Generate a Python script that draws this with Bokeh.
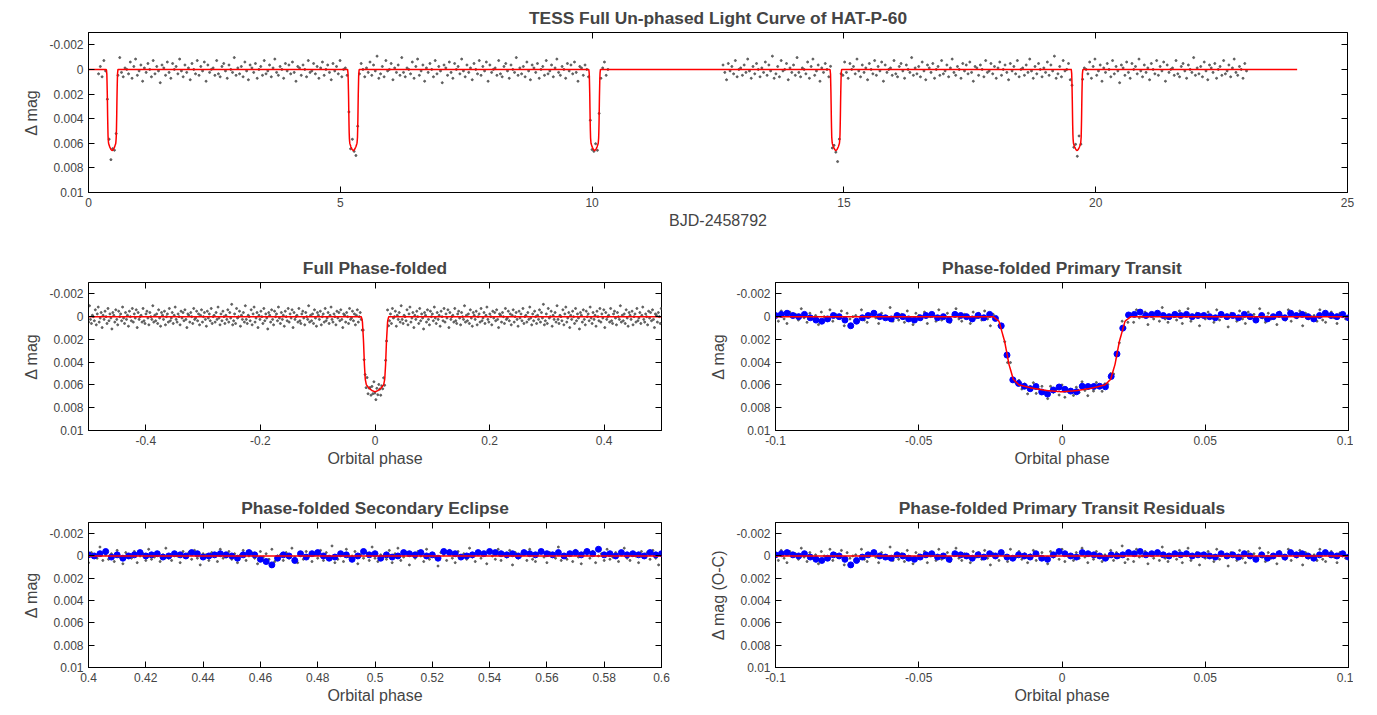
import numpy as np
from bokeh.plotting import figure
from bokeh.layouts import column, row
from bokeh.models import Range1d, FixedTicker, CustomJSTickFormatter, LinearAxis
from bokeh.embed import file_html
from bokeh.resources import INLINE

# ---- data (mag units of 1e-4 for noise lists) ----
PERIOD = 4.79
T0 = 0.47
PHASE_T = [-0.5, -0.024, -0.022, -0.020, -0.0185, -0.017, -0.015, -0.01, -0.005, 0.0,
           0.005, 0.01, 0.015, 0.017, 0.0185, 0.020, 0.022, 0.024, 0.5]
DEPTH_T = [0.0, 0.0, 0.0004, 0.0022, 0.0042, 0.0055, 0.0060, 0.0063, 0.0065, 0.0066,
           0.0065, 0.0063, 0.0060, 0.0055, 0.0042, 0.0022, 0.0004, 0.0, 0.0]
NOISE = [3,-2,5,-6,1,0,-4,7,-1,2,-3,4,-8,2,5,-1,0,3,-5,6,-2,-7,4,1,-3,8,-1,2,-4,0,5,-6,3,-2,1,9,-3,-1,4,-5,
         2,6,-4,0,-2,3,-7,1,5,-3,2,-1,7,-4,0,3,-6,4,-2,1,-5,8,-3,2,0,-1,4,-6,3,5,-2,-4,1,6,-3,0,2,-8,4,-1,
         3,-2,5,-5,1,7,-3,-1,2,-4,6,0,-2,4,-6,3,1,-3,5,-1,-7,2,4,-2,0,6,-4,1,-3,3,-5,2,8,-2,-1,4,-3,0,5,-6,
         2,1,-4,3,-2,6,-1,-5,4,0,-3,2,7,-4,1,-2,3,-6,5,0,-1,4,-3,2,-7,1,6,-2,3,-4,0,5,-1,2,-5,4,-3,1,-9,6]
BLUE_RES = [-1,-2,-3,-1,0,-2,1,3,4,2,-1,0,3,8,4,1,-1,-3,0,1,2,-1,0,2,3,1,-1,-2,1,0,3,-2,-1,0,2,-1,1,-2,0,-3,
            1,2,-1,0,1,-2,2,3,-1,-4,-2,0,1,-3,-2,-1,0,2,-1,0,-1,-3,-2,-4,-1,-2,-3,-1,0,-2,-1,-2,0,-1,-1,0,1,-2,0,-1,
            1,-2,0,3,-1,2,0,-2,1,-3,-1,-2,0,2,-1,-3,-1,0,-2,1]
SEC_RES = [-1,0,-2,-4,1,-1,2,0,-1,-3,0,-1,-2,1,0,-2,-1,0,-3,-2,1,0,-1,-2,-1,0,2,-1,-3,-1,3,5,8,2,-1,0,4,-2,1,-2,
           -3,0,2,1,-2,-1,3,0,-4,-1,-2,2,-1,1,0,-3,-2,-1,-3,0,-1,2,-4,-3,-2,1,0,-1,-3,-2,-4,-3,-2,-1,-2,0,-3,-2,-1,-4,
           -2,-1,-3,0,-2,-3,-1,-4,-2,-6,-1,-2,0,-3,-1,-2,-1,0,-3,-1,-2]
TOP_SEGMENTS = [(0.2, 10.35), (12.6, 23.0)]

Y_TICKS = [-0.002, 0, 0.002, 0.004, 0.006, 0.008, 0.01]
FONT = "Liberation Sans"
fmt = CustomJSTickFormatter(code="return (Math.round(tick*1e6)/1e6).toString();")
blank = CustomJSTickFormatter(code="return '';")


def model(ph):
    return np.interp(ph, PHASE_T, DEPTH_T)


def fold(t):
    return ((np.asarray(t) - T0) / PERIOD + 0.5) % 1.0 - 0.5


def noise(n, start=0):
    return np.array([NOISE[(start + i) % len(NOISE)] for i in range(n)]) * 1e-4


def make(title, w, h, xr, xticks, xlabel, ylabel, bl, br, bt, bb):
    p = figure(width=w, height=h, output_backend="svg", toolbar_location=None,
               x_range=Range1d(*xr), y_range=Range1d(0.01, -0.003),
               min_border_left=bl, min_border_right=br, min_border_top=bt, min_border_bottom=bb,
               title=title)
    p.title.align = "center"
    p.title.text_font = FONT
    p.title.text_font_size = "13pt"
    p.title.text_font_style = "bold"
    p.xgrid.visible = False
    p.ygrid.visible = False
    p.outline_line_color = "black"
    p.outline_line_width = 1
    for ax, ticks in ((p.xaxis[0], xticks), (p.yaxis[0], Y_TICKS)):
        ax.ticker = FixedTicker(ticks=ticks)
        ax.formatter = fmt
        ax.major_tick_in = 6
        ax.major_tick_out = 0
        ax.minor_tick_line_color = None
        ax.major_label_text_font = FONT
        ax.major_label_text_font_size = "9pt"
        ax.axis_label_text_font = FONT
        ax.axis_label_text_font_size = "12pt"
        ax.axis_label_text_font_style = "normal"
        ax.axis_line_color = "black"
    p.xaxis.axis_label = xlabel
    p.yaxis.axis_label = ylabel
    p.xaxis.axis_label_standoff = 2
    p.yaxis.axis_label_standoff = 6
    top = LinearAxis(ticker=FixedTicker(ticks=xticks), formatter=blank,
                     major_tick_in=6, major_tick_out=0, minor_tick_line_color=None,
                     axis_line_color=None, major_label_standoff=0)
    right = LinearAxis(ticker=FixedTicker(ticks=Y_TICKS), formatter=blank,
                       major_tick_in=6, major_tick_out=0, minor_tick_line_color=None,
                       axis_line_color=None, major_label_standoff=0)
    p.add_layout(top, "above")
    p.add_layout(right, "right")
    return p


GRAY = dict(size=2, color="#555555", alpha=0.9)

# ---- top: full light curve ----
p1 = make("TESS Full Un-phased Light Curve of HAT-P-60", 1361, 240, (0, 25), [0, 5, 10, 15, 20, 25],
          "BJD-2458792", "\u0394 mag", 88, 14, 23, 48)
tt = np.concatenate([np.arange(a, b, 0.035) for a, b in TOP_SEGMENTS])
yy = model(fold(tt)) + noise(len(tt)) * 1.2
p1.scatter(tt, yy, **GRAY)
tl = np.linspace(0, 24, 6000)
p1.line(tl, model(fold(tl)), color="red", line_width=1.5)

# ---- middle left: full phase folded ----
p2 = make("Full Phase-folded", 690, 238, (-0.5, 0.5), [-0.4, -0.2, 0, 0.2, 0.4],
          "Orbital phase", "\u0394 mag", 88, 29, 42, 48)
ph2 = np.arange(-0.5, 0.5, 0.0017)
p2.scatter(ph2, model(ph2) + noise(len(ph2), 11) * 1.2, **GRAY)
pl2 = np.linspace(-0.5, 0.5, 3000)
p2.line(pl2, model(pl2), color="red", line_width=1.5)

# ---- middle right: primary transit ----
p3 = make("Phase-folded Primary Transit", 663, 238, (-0.1, 0.1), [-0.1, -0.05, 0, 0.05, 0.1],
          "Orbital phase", "\u0394 mag", 85, 5, 42, 48)
ph3 = np.arange(-0.1, 0.1, 0.001)
p3.scatter(ph3, model(ph3) + noise(len(ph3), 37), **GRAY)
bx = np.linspace(-0.1, 0.1, len(BLUE_RES))
bres = np.array(BLUE_RES) * 1e-4
p3.scatter(bx, model(bx) + bres, size=6, color="blue")
pl3 = np.linspace(-0.1, 0.1, 2000)
p3.line(pl3, model(pl3), color="red", line_width=1.5)

# ---- bottom left: secondary ----
p4 = make("Phase-folded Secondary Eclipse", 690, 229, (0.4, 0.6),
          [0.4, 0.42, 0.44, 0.46, 0.48, 0.5, 0.52, 0.54, 0.56, 0.58, 0.6],
          "Orbital phase", "\u0394 mag", 88, 29, 44, 40)
ph4 = np.arange(0.4, 0.6, 0.001)
p4.scatter(ph4, noise(len(ph4), 73), **GRAY)
sx = np.linspace(0.4, 0.6, len(SEC_RES))
p4.scatter(sx, np.array(SEC_RES) * 1e-4, size=6, color="blue")
p4.line([0.4, 0.6], [0, 0], color="red", line_width=1.5)

# ---- bottom right: residuals ----
p5 = make("Phase-folded Primary Transit Residuals", 663, 229, (-0.1, 0.1), [-0.1, -0.05, 0, 0.05, 0.1],
          "Orbital phase", "\u0394 mag (O-C)", 85, 5, 44, 40)
p5.scatter(ph3, noise(len(ph3), 37), **GRAY)
p5.scatter(bx, bres, size=6, color="blue")
p5.line([-0.1, 0.1], [0, 0], color="red", line_width=1.5)

layout = column(p1, row(p2, p3), row(p4, p5))
open("out.html", "w").write(file_html(layout, INLINE))
